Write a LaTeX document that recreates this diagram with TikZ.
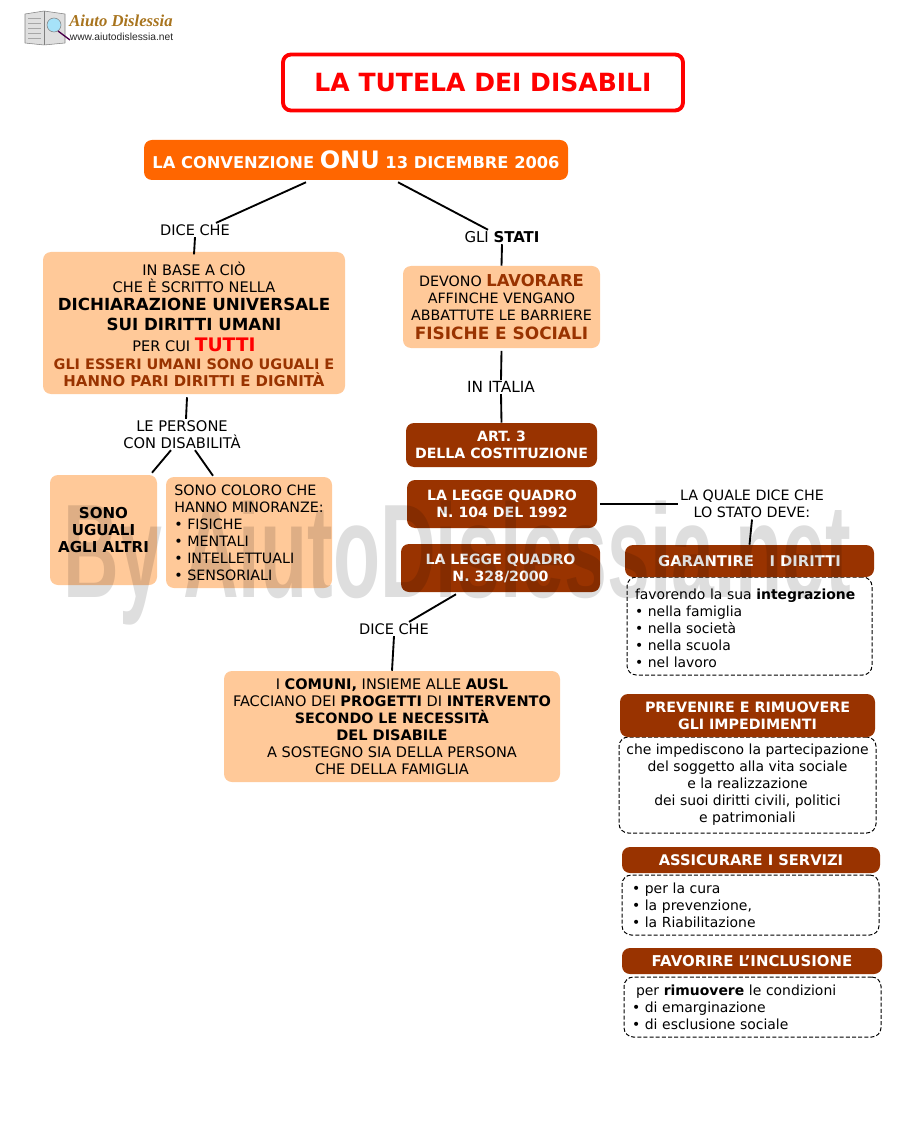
\documentclass[tikz,border=0pt]{standalone}
\usepackage{fontspec}
\setmainfont{DejaVu Sans}
\newfontfamily\logofont{Liberation Serif}
\newfontfamily\webfont{Liberation Sans}
\newfontfamily\markfont{Liberation Sans}
\usetikzlibrary{positioning,calc}
\definecolor{titlered}{HTML}{FF0000}
\definecolor{onuorange}{HTML}{FF6600}
\definecolor{peachfill}{HTML}{FFC999}
\definecolor{brownfill}{HTML}{993300}
\definecolor{logogold}{HTML}{A8741E}
\newcommand{\bigtxt}[1]{{\fontsize{12.5}{14}\selectfont\bfseries #1}}

\begin{document}
\begin{tikzpicture}[x=0.75pt,y=-0.75pt,
  boxsize/.style 2 args={minimum width=#1*0.75pt,minimum height=#2*0.75pt},
  base/.style={inner sep=0pt,align=center,font=\fontsize{10.9}{12.75}\selectfont},
  peach/.style={base,fill=peachfill,rounded corners=6pt},
  brown/.style={base,fill=brownfill,rounded corners=6pt,text=white,font=\fontsize{10.6}{12.75}\selectfont\bfseries},
  notebox/.style={base,draw=black,fill=white,line width=0.75pt,dash pattern=on 3pt off 1.6pt,rounded corners=7pt,
                  font=\fontsize{10.45}{12.75}\selectfont},
  lab/.style={base,inner sep=1pt,fill=none},
  conn/.style={draw=black,line width=1.4pt},
]
  \useasboundingbox (0,0) rectangle (914,1130);

  % Logo
  \fill[gray!25,draw=gray] (25,14) -- (44,11) -- (65,14) -- (65,43) -- (44,45) -- (25,43) -- cycle;
  \draw[gray] (44,11) -- (44,45);
  \foreach \yy in {18,23,28,33,38} {
    \draw[gray!70,line width=0.5pt] (28,\yy) -- (41,\yy);
  }
  \fill[cyan!35,draw=gray] (54,25) circle (7);
  \draw[violet!60!black,line width=1pt] (58,31) -- (70,40);
  \node[lab,font=\logofont\fontsize{12.5}{13}\selectfont\bfseries\itshape,text=logogold] (logoname) at (121,21) {Aiuto Dislessia};
  \node[lab,font=\webfont\fontsize{7.7}{8}\selectfont,text=black!85] (logoweb) at (121.5,36.5) {www.aiutodislessia.net};

  % Title
  \node[base,draw=titlered,line width=2.9pt,rounded corners=6pt,boxsize={400}{56},
        text=titlered,font=\fontsize{18.8}{20}\selectfont\bfseries] (title) at (483,82.5) {LA TUTELA DEI DISABILI};

  % Convention
  \node[base,fill=onuorange,rounded corners=6pt,boxsize={424}{40},text=white,
        font=\fontsize{12.2}{14}\selectfont\bfseries] (onu) at (356,160)
        {LA CONVENZIONE {\fontsize{18}{14}\selectfont ONU} 13 DICEMBRE 2006};

  % Left branch
  \node[lab] (dice) at (195,230) {DICE CHE};
  \node[peach,boxsize={302}{142}] (human) at (194,323) {
    \rule{0pt}{12pt}IN BASE A CIÒ\\
    CHE È SCRITTO NELLA\\[1pt]
    \bigtxt{DICHIARAZIONE UNIVERSALE}\\[2.5pt]
    \bigtxt{SUI DIRITTI UMANI}\\[2.5pt]
    PER CUI {\fontsize{14}{14}\selectfont\bfseries\color{titlered} TUTTI}\\[1pt]
    {\fontsize{10.85}{12.75}\selectfont\bfseries\color{brownfill} GLI ESSERI UMANI SONO UGUALI E}\\
    {\fontsize{11.2}{12.75}\selectfont\bfseries\color{brownfill} HANNO PARI DIRITTI E DIGNITÀ}
  };
  \node[lab,font=\fontsize{11}{12.75}\selectfont] (people) at (182,434.5) {LE PERSONE\\CON DISABILITÀ};
  \node[peach,boxsize={107}{110},font=\fontsize{11.3}{12.75}\selectfont\bfseries] (equal) at (103.5,530) {SONO\\UGUALI\\AGLI ALTRI};
  \node[peach,boxsize={166}{111},align=left,font=\fontsize{10.7}{12.75}\selectfont] (minor) at (249,532.5) {
    SONO COLORO CHE\\
    HANNO MINORANZE:\\
    \textbullet\ FISICHE\\
    \textbullet\ MENTALI\\
    \textbullet\ INTELLETTUALI\\
    \textbullet\ SENSORIALI
  };

  % Right branch
  \node[lab,font=\fontsize{11.2}{12.75}\selectfont] (states) at (502,237) {GLI \textbf{STATI}};
  \node[peach,boxsize={197}{82},font=\fontsize{10.7}{12.75}\selectfont] (work) at (501.5,307) {
    DEVONO {\fontsize{12.3}{14}\selectfont\bfseries\color{brownfill} LAVORARE}\\
    AFFINCHE VENGANO\\
    ABBATTUTE LE BARRIERE\\[1pt]
    {\fontsize{12.7}{14}\selectfont\bfseries\color{brownfill} FISICHE E SOCIALI}
  };
  \node[lab,font=\fontsize{11.5}{12.75}\selectfont] (italy) at (501,387) {IN ITALIA};
  \node[brown,boxsize={191}{44}] (art) at (501.5,445) {ART. 3\\DELLA COSTITUZIONE};
  \node[brown,boxsize={190}{48}] (law) at (502,504) {LA LEGGE QUADRO\\N. 104 DEL 1992};
  \node[brown,boxsize={199}{48}] (lawb) at (500.5,568) {LA LEGGE QUADRO\\N. 328/2000};
  \node[lab] (dicetwo) at (394,629) {DICE CHE};
  \node[peach,boxsize={336}{111}] (towns) at (392,726.5) {
    I \textbf{COMUNI,} INSIEME ALLE \textbf{AUSL}\\
    FACCIANO DEI \textbf{PROGETTI} DI \textbf{INTERVENTO}\\
    {\fontsize{10.7}{12.75}\selectfont\bfseries SECONDO LE NECESSITÀ}\\
    \textbf{DEL DISABILE}\\
    A SOSTEGNO SIA DELLA PERSONA\\
    CHE DELLA FAMIGLIA
  };

  % State duties
  \node[lab,font=\fontsize{10.7}{12.75}\selectfont] (duty) at (752,504) {LA QUALE DICE CHE\\LO STATO DEVE:};
  \node[notebox,boxsize={245}{98},align=left,text width=171.75pt] (rightsnote) at (749.5,626) {
    \rule{0pt}{11pt}favorendo la sua \textbf{integrazione}\\
    \textbullet\ nella famiglia\\
    \textbullet\ nella società\\
    \textbullet\ nella scuola\\
    \textbullet\ nel lavoro
  };
  \node[brown,boxsize={249}{32},font=\fontsize{11.1}{12.75}\selectfont\bfseries] (rights) at (749.5,561) {GARANTIRE\ \ \ I DIRITTI};
  \node[notebox,boxsize={257}{96}] (barrnote) at (747.5,785) {
    che impediscono la partecipazione\\
    del soggetto alla vita sociale\\
    e la realizzazione\\
    dei suoi diritti civili, politici\\
    e patrimoniali
  };
  \node[brown,boxsize={255}{43},font=\fontsize{10.7}{12.75}\selectfont\bfseries] (barr) at (747.5,715.5) {PREVENIRE E RIMUOVERE\\GLI IMPEDIMENTI};
  \node[notebox,boxsize={257}{60},align=left,text width=177.75pt] (servnote) at (750.5,905) {
    \textbullet\ per la cura\\
    \textbullet\ la prevenzione,\\
    \textbullet\ la Riabilitazione
  };
  \node[brown,boxsize={258}{26},font=\fontsize{11}{12.75}\selectfont\bfseries] (serv) at (751,860) {ASSICURARE I SERVIZI};
  \node[notebox,boxsize={257}{60},align=left,text width=180.75pt] (inclnote) at (752.5,1007) {
    \hspace*{3pt}per \textbf{rimuovere} le condizioni\\
    \textbullet\ di emarginazione\\
    \textbullet\ di esclusione sociale
  };
  \node[brown,boxsize={260}{26},font=\fontsize{11.2}{12.75}\selectfont\bfseries] (incl) at (752,961) {FAVORIRE L’INCLUSIONE};

  % Connectors
  \draw[conn] ([shift={(-50,2)}]onu.south) -- ([xshift=15.75pt]dice.north);
  \draw[conn] (dice.south) -- ([yshift=-2pt]human.north);
  \draw[conn] ([shift={(42,2)}]onu.south) -- ([xshift=-10.5pt]states.north);
  \draw[conn] (states.south) -- (work.north);
  \draw[conn] ([shift={(-7,3)}]human.south) -- ([xshift=3pt]people.north);
  \draw[conn] ([xshift=-8.25pt]people.south) -- ([shift={(48.5,-2)}]equal.north);
  \draw[conn] ([xshift=9.75pt]people.south) -- ([shift={(-36,-1)}]minor.north);
  \draw[conn] ([yshift=-2pt]work.south) -- (italy.north);
  \draw[conn] (italy.south) -- (art.north);
  \draw[conn] ([xshift=2pt]law.east) -- (duty.west);
  \draw[conn] (duty.south) -- (rights.north);
  \draw[conn] ([shift={(-44.5,2)}]lawb.south) -- ([xshift=11.25pt]dicetwo.north);
  \draw[conn] (dicetwo.south) -- (towns.north);

  % Watermark
  \node[lab,anchor=base,text=black,text opacity=0.13,font=\markfont\fontsize{100}{100}\selectfont\bfseries,xscale=0.578,transform shape] (mark) at (457.5,597) {By AiutoDislessia.net};
\end{tikzpicture}
\end{document}
